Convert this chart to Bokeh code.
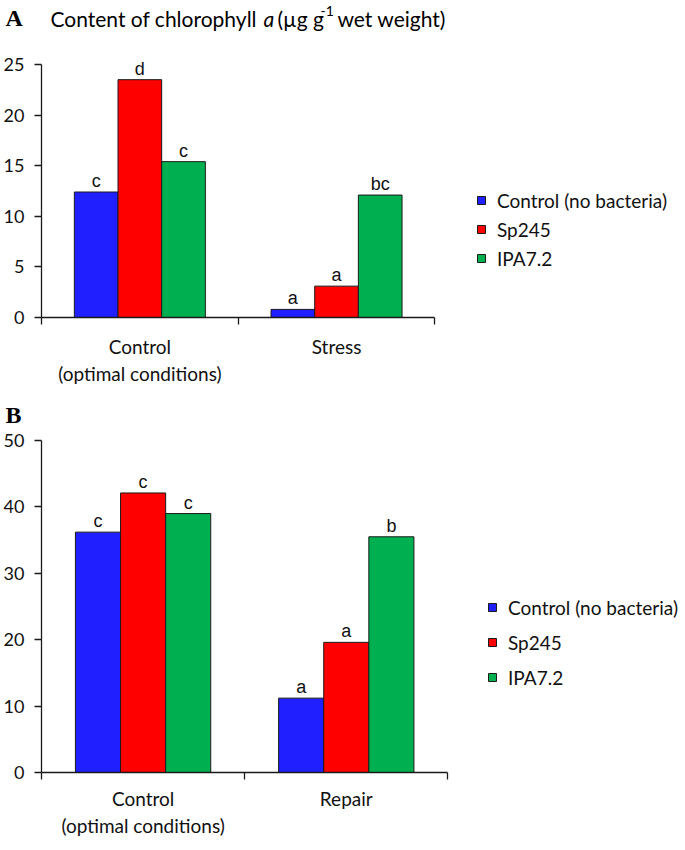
from bokeh.plotting import figure
from bokeh.models import Range1d, LinearAxis, FixedTicker, Legend, LegendItem, Label
from bokeh.layouts import column
from bokeh.core.properties import value
from bokeh.embed import file_html
from bokeh.resources import INLINE

# ---------------- data ----------------
series_names = ["Control (no bacteria)", "Sp245", "IPA7.2"]
series_colors = ["#1f1fff", "#ff0000", "#00b050"]

groups_a = ["Control\n(optimal conditions)", "Stress"]
a_control = [12.4, 0.8]
a_sp245 = [23.5, 3.1]
a_ipa72 = [15.4, 12.1]
a_letters_control = ["c", "a"]
a_letters_sp245 = ["d", "a"]
a_letters_ipa72 = ["c", "bc"]
a_yticks = [0, 5, 10, 15, 20, 25]

groups_b = ["Control\n(optimal conditions)", "Repair"]
b_control = [36.2, 11.2]
b_sp245 = [42.1, 19.6]
b_ipa72 = [39.0, 35.5]
b_letters_control = ["c", "a"]
b_letters_sp245 = ["c", "a"]
b_letters_ipa72 = ["c", "b"]
b_yticks = [0, 10, 20, 30, 40, 50]

BAR_W = 0.222
LABEL_FONT = "Lato"
INK = "#1a1a1a"
W = 685
FRAME_LEFT = 40


def strip(height, labels):
    s = figure(width=W, height=height, output_backend="svg", toolbar_location=None,
               title=None, frame_align=False,
               x_range=Range1d(0, W), y_range=Range1d(0, height),
               x_axis_type=None, y_axis_type=None, min_border=0,
               min_border_left=0, min_border_right=0,
               min_border_top=0, min_border_bottom=0)
    s.outline_line_color = None
    s.background_fill_color = "white"
    s.border_fill_color = "white"
    for (tx, ty, txt, font, size, style) in labels:
        s.add_layout(Label(x=tx, y=ty, text=txt, text_font=font, text_font_style=style,
                           text_font_size=size, text_color="#000000",
                           text_baseline="alphabetic"))
    return s


def make_panel(groups, series_vals, series_letters, yticks, px_per_x, px_per_y,
               height, frame_h, xlabel_standoff, legend_xy, legend_spacing):
    border_bottom = height - frame_h
    frame_w = W - FRAME_LEFT
    p = figure(width=W, height=height, output_backend="svg", toolbar_location=None,
               title=None, frame_align=False,
               x_range=Range1d(0, frame_w / px_per_x),
               y_range=Range1d(yticks[0], yticks[0] + frame_h / px_per_y),
               x_axis_type=None, y_axis_type=None,
               min_border_left=FRAME_LEFT, min_border_right=0,
               min_border_top=0, min_border_bottom=border_bottom)
    p.outline_line_color = None
    p.background_fill_color = "white"
    p.border_fill_color = "white"

    n = len(groups)
    centers = [i + 0.5 for i in range(n)]
    xaxis = LinearAxis(bounds=(0, n),
                       ticker=FixedTicker(ticks=centers, minor_ticks=list(range(n + 1))),
                       major_label_overrides={c: g for c, g in zip(centers, groups)},
                       major_tick_in=0, major_tick_out=0,
                       minor_tick_in=0, minor_tick_out=7,
                       minor_tick_line_color=INK, minor_tick_line_width=1.3,
                       axis_line_color=INK, axis_line_width=1.3,
                       major_label_standoff=xlabel_standoff,
                       major_label_text_font=LABEL_FONT,
                       major_label_text_font_size="19px",
                       major_label_text_color="#111111")
    p.add_layout(xaxis, "below")

    yaxis = LinearAxis(bounds=(yticks[0], yticks[-1]),
                       ticker=FixedTicker(ticks=yticks, minor_ticks=[]),
                       major_tick_in=0, major_tick_out=7,
                       major_tick_line_color=INK, major_tick_line_width=1.3,
                       axis_line_color=INK, axis_line_width=1.3,
                       major_label_standoff=10,
                       major_label_text_font=LABEL_FONT,
                       major_label_text_font_size="18px",
                       major_label_text_color="#111111")
    p.add_layout(yaxis, "left")

    items = []
    for j, (name, color, vals, letters) in enumerate(
            zip(series_names, series_colors, series_vals, series_letters)):
        xs = [c + (j - 1) * BAR_W for c in centers]
        r = p.vbar(x=xs, top=vals, bottom=0, width=BAR_W,
                   fill_color=color, line_color=INK, line_width=1)
        p.text(x=xs, y=vals, text=letters, text_align="center",
               text_baseline="alphabetic", y_offset=-11,
               text_font=value("Liberation Sans"), text_font_size="18px",
               text_color="#111111")
        items.append(LegendItem(label=name, renderers=[r]))

    legend = Legend(items=items, location=legend_xy, orientation="vertical",
                    glyph_width=10, glyph_height=10, label_height=24,
                    label_standoff=11, spacing=legend_spacing,
                    padding=0, margin=0, border_line_color=None,
                    background_fill_alpha=0,
                    label_text_font=LABEL_FONT, label_text_font_size="19px",
                    label_text_color="#111111")
    p.add_layout(legend)
    return p


TITLE_H = 44
title_strip = strip(TITLE_H, [
    (5, 27, "A", "Liberation Serif", "24px", "bold"),
    (50, 26, "Content of chlorophyll", LABEL_FONT, "21px", "normal"),
    (263, 26, "a", LABEL_FONT, "21px", "italic"),
    (277, 26, "(\u00b5g g", LABEL_FONT, "21px", "normal"),
    (320, 34, "-1", LABEL_FONT, "14px", "normal"),
    (337, 26, "wet weight)", LABEL_FONT, "21px", "normal"),
])

# panel A: frame top at page 44, frame bottom (0) at page 317
pa = make_panel(groups_a, [a_control, a_sp245, a_ipa72],
                [a_letters_control, a_letters_sp245, a_letters_ipa72],
                a_yticks, 197.0, 253 / 25.0, 351, 317 - 44, 10, (435, 47), 5)

B_H = 35
b_strip = strip(B_H, [(5, 16, "B", "Liberation Serif", "24px", "bold")])

# panel B: frame top at page 430, frame bottom (0) at page 772
pb = make_panel(groups_b, [b_control, b_sp245, b_ipa72],
                [b_letters_control, b_letters_sp245, b_letters_ipa72],
                b_yticks, 203.5, 332 / 50.0, 418, 772 - 430, 7, (446, 83), 11)

layout = column(title_strip, pa, b_strip, pb, spacing=0)
open("out.html", "w").write(file_html(layout, INLINE))
